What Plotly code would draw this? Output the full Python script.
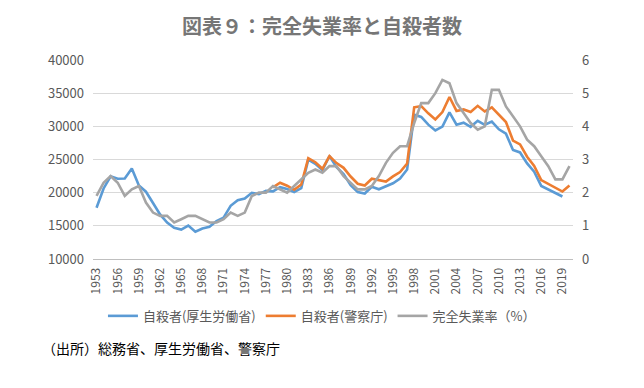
import plotly.graph_objects as go

years = list(range(1953, 2021))

# 自殺者(厚生労働省) 1953-2019
mhlw_years = list(range(1953, 2020))
mhlw = [17731, 20635, 22477, 22107, 22136, 23641, 21090, 20143, 18446, 16724,
        15490, 14707, 14444, 15050, 14121, 14601, 14844, 15728, 16239, 18015,
        18859, 19105, 19975, 19786, 20269, 20199, 20823, 20542, 20096, 20668,
        24985, 24344, 23383, 25524, 23831, 22795, 21125, 20088, 19875, 20893,
        20516, 20923, 21420, 22138, 23494, 31755, 31413, 30251, 29375, 29949,
        32109, 30247, 30553, 29921, 30827, 30229, 30707, 29554, 28896, 26433,
        26063, 24417, 23152, 21017, 20465, 20031, 19425]

# 自殺者(警察庁) 1978-2020
npa_years = list(range(1978, 2021))
npa = [20788, 21503, 21048, 20434, 21228, 25202, 24596, 23599, 25524, 24460,
       23742, 22436, 21346, 21084, 22104, 21851, 21679, 22445, 23104, 24391,
       32863, 33048, 31957, 31042, 32143, 34427, 32325, 32552, 32155, 33093,
       32249, 32845, 31690, 30651, 27858, 27283, 25427, 24025, 21897, 21321,
       20840, 20169, 21081]

# 完全失業率(%) 1953-2020
unemp = [1.9, 2.3, 2.5, 2.3, 1.9, 2.1, 2.2, 1.7, 1.4, 1.3,
         1.3, 1.1, 1.2, 1.3, 1.3, 1.2, 1.1, 1.1, 1.2, 1.4,
         1.3, 1.4, 1.9, 2.0, 2.0, 2.2, 2.1, 2.0, 2.2, 2.4,
         2.6, 2.7, 2.6, 2.8, 2.8, 2.5, 2.3, 2.1, 2.1, 2.2,
         2.5, 2.9, 3.2, 3.4, 3.4, 4.1, 4.7, 4.7, 5.0, 5.4,
         5.3, 4.7, 4.4, 4.1, 3.9, 4.0, 5.1, 5.1, 4.6, 4.3,
         4.0, 3.6, 3.4, 3.1, 2.8, 2.4, 2.4, 2.8]

tick_years = list(range(1953, 2020, 3))
tick_labels = [str(y) for y in tick_years]
left_ticks = [10000, 15000, 20000, 25000, 30000, 35000, 40000]
left_labels = [str(v) for v in left_ticks]
right_ticks = [0, 1, 2, 3, 4, 5, 6]

FONT = "Noto Sans CJK JP"
TXT = "#595959"

fig = go.Figure()
fig.add_trace(go.Scatter(x=mhlw_years, y=mhlw, name="自殺者(厚生労働省)", mode="lines",
                         line=dict(color="#5B9BD5", width=2.6)))
fig.add_trace(go.Scatter(x=npa_years, y=npa, name="自殺者(警察庁)", mode="lines",
                         line=dict(color="#ED7D31", width=2.6)))
fig.add_trace(go.Scatter(x=years, y=unemp, name="完全失業率（%）", mode="lines",
                         line=dict(color="#A5A5A5", width=2.6), yaxis="y2"))

fig.update_layout(
    width=644, height=388,
    margin=dict(l=93, r=71, t=60, b=129),
    paper_bgcolor="white", plot_bgcolor="white",
    font=dict(family=FONT, size=12, color=TXT),
    title=dict(text="<b>図表９：完全失業率と自殺者数</b>", x=0.5, xref="container",
               xanchor="center", y=1 - 27 / 388, yanchor="middle", yref="container",
               font=dict(family=FONT, size=20, color="#767676")),
    xaxis=dict(range=[1952.5, 2020.5], tickvals=tick_years, ticktext=tick_labels,
               tickangle=-90, showgrid=False, showline=True, linecolor="#BFBFBF",
               linewidth=1, ticks="", zeroline=False, ticklabelstandoff=3,
               tickfont=dict(size=12, color=TXT)),
    yaxis=dict(range=[10000, 40000], tickvals=left_ticks, ticktext=left_labels,
               showgrid=True, gridcolor="#D9D9D9", gridwidth=1, zeroline=False,
               ticks="", ticklabelstandoff=8, tickfont=dict(size=13, color=TXT)),
    yaxis2=dict(range=[0, 6], tickvals=right_ticks, overlaying="y", side="right",
                showgrid=False, zeroline=False, ticks="", ticklabelstandoff=8,
                tickfont=dict(size=13, color=TXT)),
    legend=dict(orientation="h", x=0.477, xanchor="center", y=-0.286, yanchor="middle",
                font=dict(size=13, color=TXT), bgcolor="rgba(0,0,0,0)"),
    annotations=[dict(text="（出所）総務省、厚生労働省、警察庁", xref="paper", yref="paper",
                      x=-0.11, y=-0.447, xanchor="left", yanchor="middle", showarrow=False,
                      font=dict(family=FONT, size=14, color="#000000"))],
)

fig.write_html("out.html", config={"displayModeBar": False},
               post_script="document.body.style.margin='0';")
